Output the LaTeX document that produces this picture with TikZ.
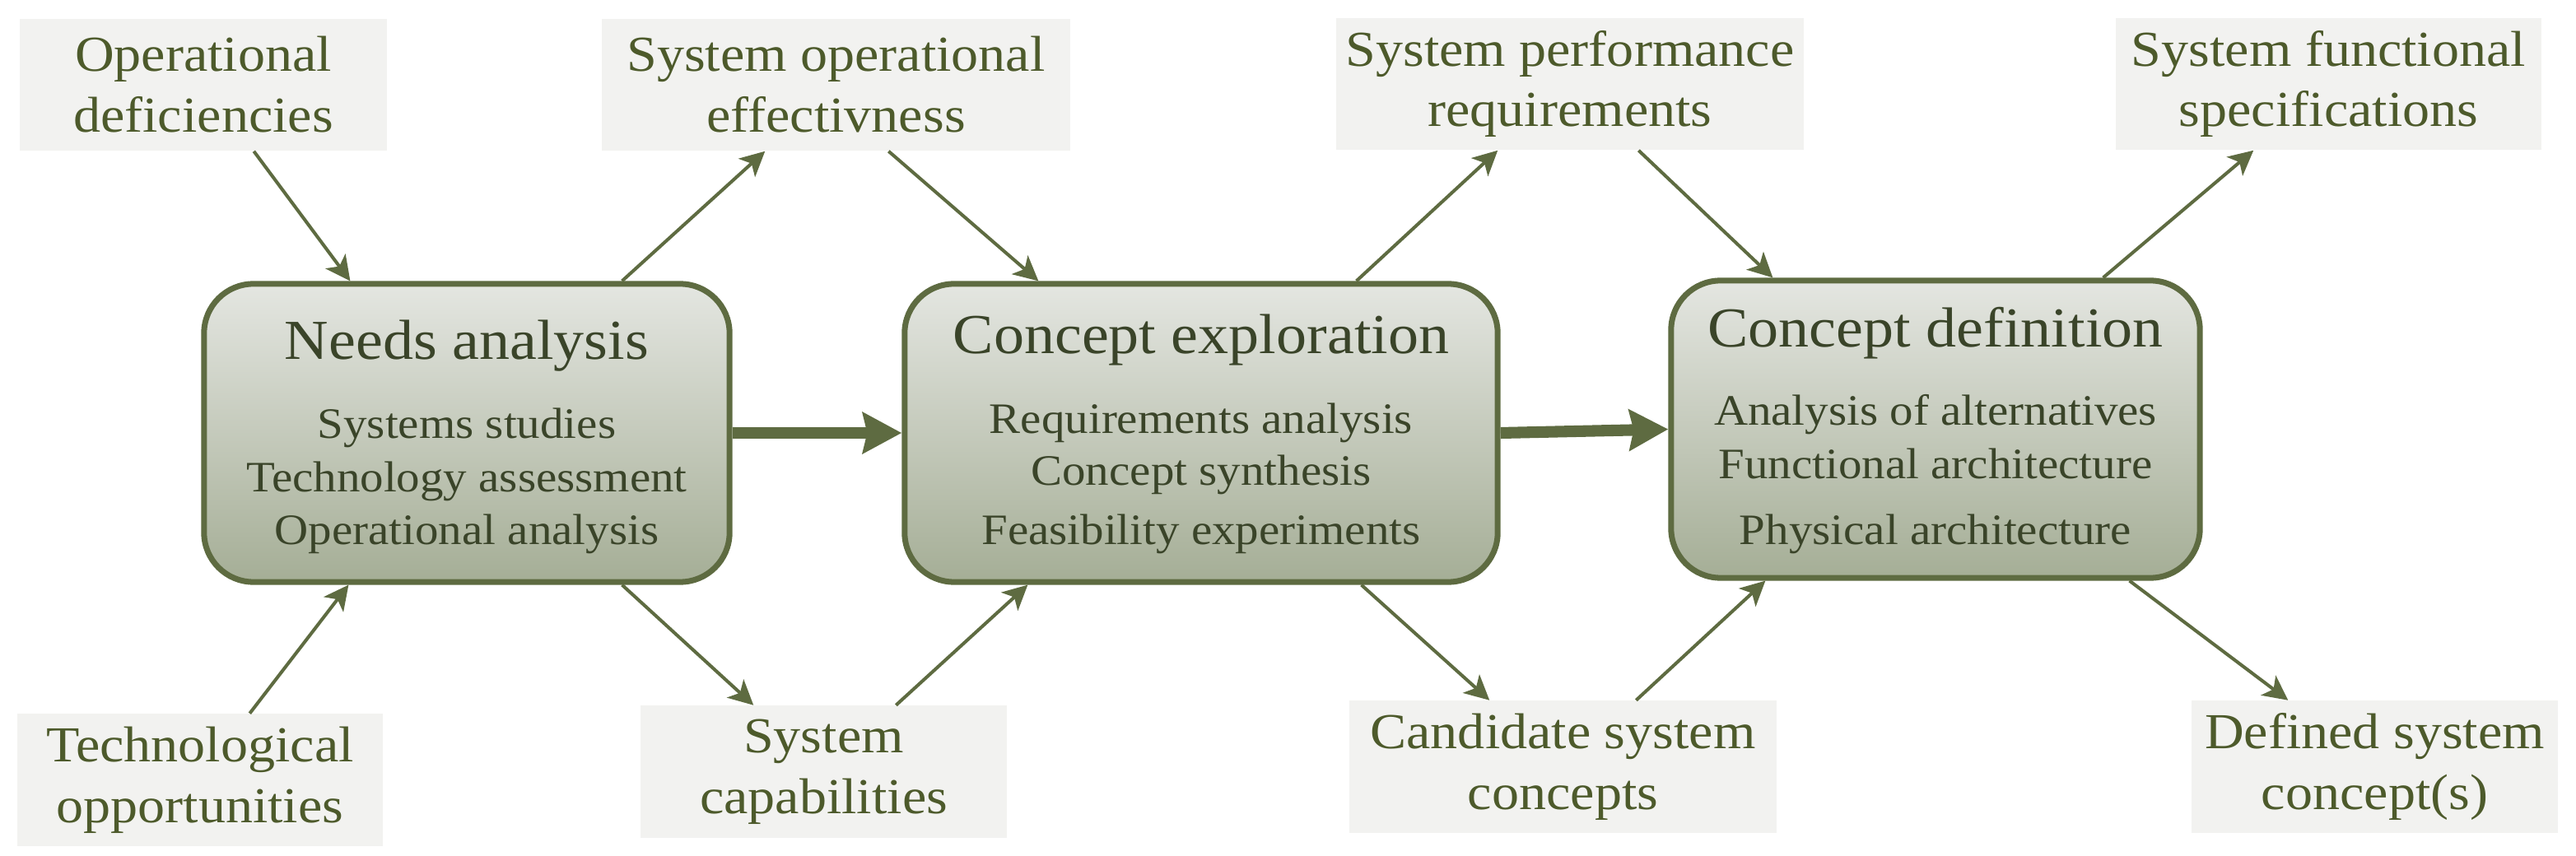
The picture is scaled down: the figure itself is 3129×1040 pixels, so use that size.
\documentclass[tikz,border=0pt]{standalone}
\usepackage{fontspec}
\setmainfont[FakeStretch=1.08]{Liberation Serif}
\usetikzlibrary{arrows.meta,calc}
\definecolor{olive}{HTML}{5E6B41}
\definecolor{labtext}{HTML}{4D5A2B}
\definecolor{boxtext}{HTML}{3A4429}
\definecolor{labfill}{HTML}{F2F2F0}
\definecolor{gtop}{HTML}{E4E6E1}
\definecolor{gbot}{HTML}{A5AE96}
\tikzset{
  lab/.style={fill=labfill, inner sep=0pt, text=labtext, align=center,
    font=\fontsize{17.4}{21}\selectfont, minimum height=1.6cm},
  phase/.style={draw=olive, line width=2pt, rounded corners=0.6cm,
    top color=gtop, bottom color=gbot, inner sep=0pt},
  ttl/.style={anchor=base, text=boxtext, font=\fontsize{19.5}{23}\selectfont, inner sep=0pt},
  itm/.style={anchor=base, text=boxtext, font=\fontsize{15}{18}\selectfont, inner sep=0pt},
  thin/.style={draw=olive, line width=1.15pt, -{Stealth[length=8.5pt,width=8.5pt,inset=2.2pt]}},
  thick/.style={draw=olive, line width=4pt, -{Stealth[length=13.4pt,width=14pt,inset=1.5pt]}}
}
\begin{document}
\begin{tikzpicture}[x=0.01cm,y=-0.01cm]
\useasboundingbox (0,0) rectangle (3129,1040);
% phase boxes
\node[phase, minimum width=6.38cm, minimum height=3.62cm] (na) at (567,526) {};
\node[phase, minimum width=7.20cm, minimum height=3.62cm] (ce) at (1459,526) {};
\node[phase, minimum width=6.42cm, minimum height=3.61cm] (cd) at (2351,521.5) {};
% titles and items
\node[ttl] (na0) at (567,437) {Needs analysis};
\node[itm] (na1) at (567,533) {Systems studies};
\node[itm] (na2) at (567,597) {Technology assessment};
\node[itm] (na3) at (567,662) {Operational analysis};
\node[ttl] (ce0) at (1459,430) {Concept exploration};
\node[itm] (ce1) at (1459,527) {Requirements analysis};
\node[itm] (ce2) at (1459,590) {Concept synthesis};
\node[itm] (ce3) at (1459,662) {Feasibility experiments};
\node[ttl] (cd0) at (2351,422) {Concept definition};
\node[itm] (cd1) at (2351,517) {Analysis of alternatives};
\node[itm] (cd2) at (2351,582) {Functional architecture};
\node[itm] (cd3) at (2351,662) {Physical architecture};
% labels
\node[lab, minimum width=4.46cm] (od) at (247,103) {Operational\\deficiencies};
\node[lab, minimum width=5.69cm] (soe) at (1015.5,103) {System operational\\effectivness};
\node[lab, minimum width=5.68cm] (spr) at (1907,102) {System performance\\requirements};
\node[lab, minimum width=5.17cm] (sfs) at (2828.5,102) {System functional\\specifications};
\node[lab, minimum width=4.44cm] (to) at (243,947.5) {Technological\\opportunities};
\node[lab, minimum width=4.45cm] (sc) at (1000.5,937.5) {System\\capabilities};
\node[lab, minimum width=5.19cm] (csc) at (1898.5,931.5) {Candidate system\\concepts};
\node[lab, minimum width=4.45cm] (dsc) at (2884.5,931.5) {Defined system\\concept(s)};
% thick arrows
\draw[thick] (na.east) -- (ce.west);
\draw[thick] (ce.east) -- (cd.west);
% thin arrows (top)
\draw[thin] ([xshift=2.85cm]od.south west) -- ([xshift=1.81cm]na.north west);
\draw[thin] ([xshift=5.11cm]na.north west) -- ([xshift=1.99cm]soe.south west);
\draw[thin] ([xshift=3.49cm]soe.south west) -- ([xshift=1.66cm]ce.north west);
\draw[thin] ([xshift=5.52cm]ce.north west) -- ([xshift=1.97cm]spr.south west);
\draw[thin] ([xshift=3.68cm]spr.south west) -- ([xshift=1.27cm]cd.north west);
\draw[thin] ([xshift=5.28cm]cd.north west) -- ([xshift=1.68cm]sfs.south west);
% thin arrows (bottom)
\draw[thin] ([xshift=2.83cm]to.north west) -- ([xshift=1.79cm]na.south west);
\draw[thin] ([xshift=5.11cm]na.south west) -- ([xshift=1.38cm]sc.north west);
\draw[thin] ([xshift=3.11cm]sc.north west) -- ([xshift=1.53cm]ce.south west);
\draw[thin] ([xshift=5.58cm]ce.south west) -- ([xshift=1.71cm]csc.north west);
\draw[thin] ([xshift=3.49cm]csc.north west) -- ([xshift=1.18cm]cd.south west);
\draw[thin] ([xshift=5.60cm]cd.south west) -- ([xshift=1.18cm]dsc.north west);
\end{tikzpicture}
\end{document}
